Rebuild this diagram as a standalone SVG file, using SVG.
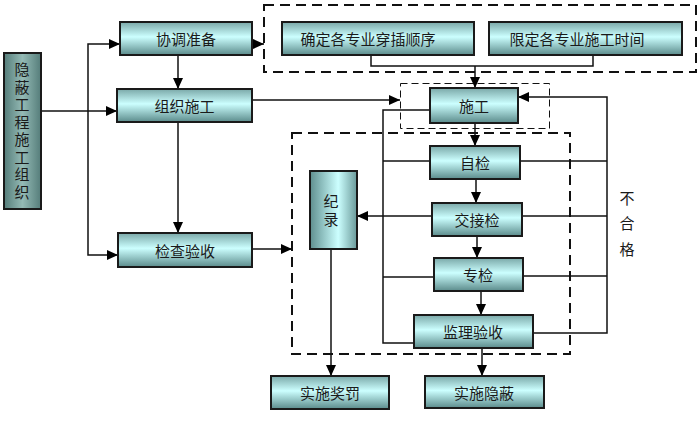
<svg xmlns="http://www.w3.org/2000/svg" width="700" height="424" viewBox="0 0 700 424">
<defs>
<linearGradient id="gv" x1="0" y1="0" x2="0" y2="1">
<stop offset="0" stop-color="#7aa8a8"/>
<stop offset="0.45" stop-color="#ccffff"/>
<stop offset="1" stop-color="#5b8b8b"/>
</linearGradient>
<linearGradient id="gh" x1="0" y1="0" x2="1" y2="0">
<stop offset="0" stop-color="#5f8f8f"/>
<stop offset="0.6" stop-color="#ccffff"/>
<stop offset="1" stop-color="#6a9a9a"/>
</linearGradient>
<linearGradient id="gd" x1="0" y1="0" x2="1" y2="0">
<stop offset="0" stop-color="#557d7a"/>
<stop offset="0.5" stop-color="#94bab5"/>
<stop offset="1" stop-color="#557d7a"/>
</linearGradient>
<marker id="ah" markerUnits="userSpaceOnUse" markerWidth="12" markerHeight="10" refX="11" refY="5" orient="auto">
<path d="M0,0 L11,5 L0,10 z" fill="#000"/>
</marker>
</defs>
<style>
text{font-family:"Noto Sans CJK SC","Noto Sans",sans-serif;font-size:15px;fill:#1a1a1a;text-anchor:middle;dominant-baseline:central}
text.v{writing-mode:tb;dominant-baseline:auto}
.box{fill:url(#gv);stroke:#1a1a1a;stroke-width:2}
.con line,.con path{fill:none;stroke:#111;stroke-width:1.5}
.ar{marker-end:url(#ah)}
.dash{fill:none;stroke:#111;stroke-width:2;stroke-dasharray:10 6}
.dash2{fill:none;stroke:#111;stroke-width:1;stroke-dasharray:7 4}
</style>
<rect width="700" height="424" fill="#fff"/>
<g id="frames">
<rect class="dash" x="264" y="5" width="432" height="67"/>
<rect class="dash2" x="400.5" y="83.5" width="149" height="45"/>
<rect class="dash" x="292" y="133" width="278" height="221"/>
</g>
<g class="con" id="connectors">
<line class="ar" x1="41" y1="111" x2="117" y2="111"/>
<path class="ar" d="M88,111 L88,44 L120,44"/>
<path class="ar" d="M88,111 L88,255 L118,255"/>
<line class="ar" x1="178" y1="55" x2="178" y2="89"/>
<line class="ar" x1="178" y1="122" x2="178" y2="233"/>
<line class="ar" x1="252" y1="44" x2="264" y2="44"/>
<path d="M371,55 L371,66 L593,66 L593,55"/>
<line class="ar" x1="475" y1="66" x2="475" y2="88"/>
<line class="ar" x1="252" y1="100" x2="400" y2="100"/>
<line class="ar" x1="475" y1="123" x2="475" y2="146"/>
<line class="ar" x1="476" y1="179" x2="476" y2="203"/>
<line class="ar" x1="477" y1="236" x2="477" y2="258"/>
<line class="ar" x1="481" y1="291" x2="481" y2="315"/>
<line class="ar" x1="482" y1="348" x2="482" y2="376"/>
<path d="M430,110 L383,110 L383,343 L414,343"/>
<line x1="383" y1="161" x2="430" y2="161"/>
<line x1="383" y1="277" x2="434" y2="277"/>
<line class="ar" x1="432" y1="216" x2="357" y2="216"/>
<path class="ar" d="M533,333 L607,333 L607,97 L518,97"/>
<line x1="520" y1="161" x2="607" y2="161"/>
<line x1="522" y1="216" x2="607" y2="216"/>
<line x1="523" y1="276" x2="607" y2="276"/>
<line class="ar" x1="331" y1="249" x2="331" y2="376"/>
<line class="ar" x1="252" y1="249" x2="292" y2="249"/>
</g>
<g id="n-yinbi">
<rect x="4" y="53" width="37" height="156" fill="url(#gd)" stroke="#1a1a1a" stroke-width="2"/>
<text class="v" x="22" y="132" letter-spacing="2.5">隐蔽工程施工组织</text>
</g>
<g id="n-xietiao">
<rect class="box" x="120" y="22" width="132" height="33"/>
<text x="186" y="38.5">协调准备</text>
</g>
<g id="n-zuzhi">
<rect class="box" x="117" y="89" width="135" height="33"/>
<text x="184.5" y="105.5">组织施工</text>
</g>
<g id="n-jiancha">
<rect class="box" x="118" y="233" width="134" height="34"/>
<text x="185" y="250">检查验收</text>
</g>
<g id="n-queding">
<rect class="box" x="282" y="22" width="192" height="33"/>
<text x="368" y="38.5">确定各专业穿插顺序</text>
</g>
<g id="n-xianding">
<rect class="box" x="489" y="22" width="193" height="33"/>
<text x="577" y="38.5">限定各专业施工时间</text>
</g>
<g id="n-shigong">
<rect class="box" x="430" y="88" width="88" height="35"/>
<text x="474" y="105.5">施工</text>
</g>
<g id="n-zijian">
<rect class="box" x="430" y="146" width="90" height="33"/>
<text x="475" y="162.5">自检</text>
</g>
<g id="n-jiaojie">
<rect class="box" x="432" y="203" width="90" height="33"/>
<text x="477" y="219.5">交接检</text>
</g>
<g id="n-zhuanjian">
<rect class="box" x="434" y="258" width="89" height="33"/>
<text x="478" y="274.5">专检</text>
</g>
<g id="n-jianli">
<rect class="box" x="414" y="315" width="119" height="33"/>
<text x="473" y="331.5">监理验收</text>
</g>
<g id="n-jilu">
<rect x="310" y="171" width="47" height="78" fill="url(#gh)" stroke="#1a1a1a" stroke-width="2"/>
<text class="v" x="331" y="212" letter-spacing="3">纪录</text>
</g>
<g id="n-jiangfa">
<rect class="box" x="271" y="376" width="118" height="33"/>
<text x="330" y="392.5">实施奖罚</text>
</g>
<g id="n-yinbi2">
<rect class="box" x="425" y="376" width="119" height="32"/>
<text x="484" y="392">实施隐蔽</text>
</g>
<g id="label-buhege">
<text class="v" x="627" y="229" letter-spacing="10.5">不合格</text>
</g>
</svg>
